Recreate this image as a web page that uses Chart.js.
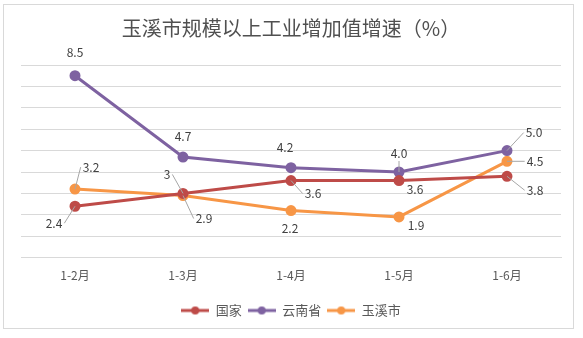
<!DOCTYPE html>
<html>
<head>
<meta charset="utf-8">
<script src="https://cdn.jsdelivr.net/npm/chart.js@4"></script>
<style>
    body { margin: 0; background: #fff; }
    .wrap { position: relative; width: 583px; height: 338px; }
    .frame { position: absolute; left: 3px; top: 4px; width: 571px; height: 325px; border: 1px solid #d9d9d9; box-sizing: border-box; pointer-events: none; }
</style>
</head>
<body>
<div class="wrap">
    <canvas id="chart" width="583" height="338"></canvas>
    <div class="frame"></div>
</div>
<script>
const months = ['1-2月', '1-3月', '1-4月', '1-5月', '1-6月']
const guojia = [2.4, 3, 3.6, 3.6, 3.8]
const yunnan = [8.5, 4.7, 4.2, 4.0, 5.0]
const yuxi = [3.2, 2.9, 2.2, 1.9, 4.5]
const labelText = {
    0: ['2.4', '3', '3.6', '3.6', '3.8'],
    1: ['8.5', '4.7', '4.2', '4.0', '5.0'],
    2: ['3.2', '2.9', '2.2', '1.9', '4.5']
}

// label placement relative to the point, [dx, dy, leader]
const labelPlace = {
    0: [[-21, 17, 1], [-16, -19, 1], [22, 13, 1], [16, 9, 0], [28, 14, 1]],
    1: [[0, -23, 0], [0, -21, 0], [-6, -20, 0], [0, -19, 1], [27, -18, 1]],
    2: [[16, -22, 1], [21, 23, 1], [-1, 18, 0], [17, 8, 0], [28, 0, 1]]
}

const FONT = "'Noto Sans CJK SC', 'Noto Sans', sans-serif"

function legendIcon(color) {
    const c = document.createElement('canvas')
    c.width = 28
    c.height = 10
    const g = c.getContext('2d')
    g.strokeStyle = color
    g.lineWidth = 3
    g.beginPath()
    g.moveTo(0, 5)
    g.lineTo(28, 5)
    g.stroke()
    g.fillStyle = color
    g.beginPath()
    g.arc(14, 5, 4, 0, Math.PI * 2)
    g.fill()
    return c
}

const pointLabels = {
    id: 'pointLabels',
    afterDatasetsDraw(chart) {
        const ctx = chart.ctx
        ctx.save()
        ctx.font = '12px ' + FONT
        ctx.textAlign = 'center'
        ctx.textBaseline = 'middle'
        chart.data.datasets.forEach((ds, i) => {
            const meta = chart.getDatasetMeta(i)
            meta.data.forEach((pt, j) => {
                const [dx, dy, leader] = labelPlace[i][j]
                const txt = labelText[i][j]
                const lx = pt.x + dx
                const ly = pt.y + dy
                if (leader) {
                    const w = ctx.measureText(txt).width / 2 + 2
                    let ax = lx, ay = ly
                    if (Math.abs(dx) > 10) ax = lx - Math.sign(dx) * w
                    else ay = ly - Math.sign(dy) * 8
                    ctx.strokeStyle = '#a6a6a6'
                    ctx.lineWidth = 1
                    ctx.beginPath()
                    ctx.moveTo(pt.x, pt.y)
                    ctx.lineTo(ax, ay)
                    ctx.stroke()
                }
                ctx.fillStyle = '#404040'
                ctx.fillText(txt, lx, ly)
            })
        })
        ctx.restore()
    }
}

const colors = ['#be4b48', '#7e62a1', '#f79646']

function series(label, data, color) {
    return {
        label: label,
        data: data,
        borderColor: color,
        backgroundColor: color,
        borderWidth: 3,
        pointRadius: 4,
        pointHoverRadius: 4,
        pointStyle: 'circle',
        tension: 0
    }
}

new Chart(document.getElementById('chart'), {
    type: 'line',
    data: {
        labels: months,
        datasets: [
            series('国家', guojia, colors[0]),
            series('云南省', yunnan, colors[1]),
            series('玉溪市', yuxi, colors[2])
        ]
    },
    options: {
        responsive: false,
        animation: false,
        layout: { padding: { left: 21, right: 22, top: 10, bottom: 11 } },
        plugins: {
            title: {
                display: true,
                text: '玉溪市规模以上工业增加值增速（%）',
                color: '#505050',
                font: { family: FONT, size: 20, weight: 'normal' },
                padding: { top: 6, bottom: 25 }
            },
            legend: {
                position: 'bottom',
                labels: {
                    color: '#595959',
                    font: { family: FONT, size: 13 },
                    usePointStyle: true,
                    pointStyleWidth: 28,
                    boxHeight: 10,
                    padding: 6,
                    generateLabels(chart) {
                        return chart.data.datasets.map((ds, i) => ({
                            text: ds.label,
                            pointStyle: legendIcon(colors[i]),
                            fillStyle: colors[i],
                            strokeStyle: colors[i],
                            lineWidth: 0,
                            fontColor: '#595959',
                            datasetIndex: i
                        }))
                    }
                }
            },
            tooltip: { enabled: false }
        },
        scales: {
            x: {
                offset: true,
                grid: { display: false, drawTicks: false },
                border: { color: '#d9d9d9' },
                ticks: { color: '#595959', font: { family: FONT, size: 12 }, padding: 11 },
                afterFit(scale) { scale.height += 4 }
            },
            y: {
                min: 0,
                max: 9,
                ticks: { display: false, stepSize: 1 },
                grid: { color: '#d9d9d9', drawTicks: false },
                border: { display: false }
            }
        }
    },
    plugins: [pointLabels]
})
</script>
</body>
</html>
